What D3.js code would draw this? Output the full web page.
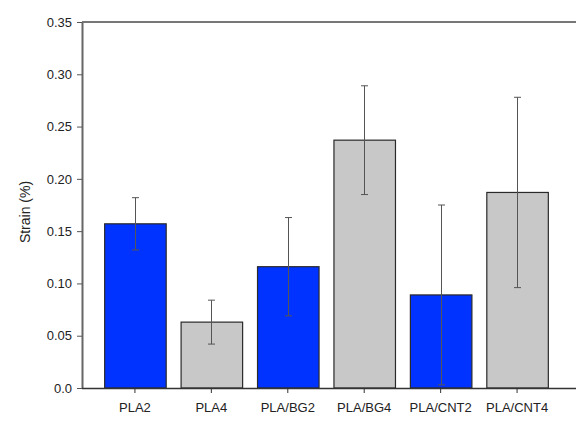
<!DOCTYPE html>
<html>
<head>
<meta charset="utf-8">
<script src="https://cdn.jsdelivr.net/npm/d3@7"></script>
<style>
  html, body { margin: 0; padding: 0; background: #fff; }
  svg { display: block; }
  text { font-family: "Liberation Sans", Arial, sans-serif; fill: #222; }
</style>
</head>
<body>
<svg id="chart" width="576" height="424"></svg>
<script>
// Sample names, mean strain and standard deviation
const categories = ["PLA2", "PLA4", "PLA/BG2", "PLA/BG4", "PLA/CNT2", "PLA/CNT4"];
const strainMean = [0.157, 0.063, 0.116, 0.237, 0.089, 0.187];
const strainErr  = [0.025, 0.021, 0.047, 0.052, 0.086, 0.091];
const barFill    = ["#0033ff", "#c8c8c8", "#0033ff", "#c8c8c8", "#0033ff", "#c8c8c8"];
const yTicks     = [0, 0.05, 0.10, 0.15, 0.20, 0.25, 0.30, 0.35];
const yTickLabels = ["0.0", "0.05", "0.10", "0.15", "0.20", "0.25", "0.30", "0.35"];
const yTitle = "Strain (%)";

const svg = d3.select("#chart");
const plotLeft = 82, plotTop = 22, plotBottom = 388, plotRight = 580;
const fontFamily = "'Liberation Sans', Arial, sans-serif";

const x = d3.scaleBand()
  .domain(categories)
  .range([plotLeft, 570])
  .paddingInner(0.195)
  .paddingOuter(0.29);

const y = d3.scaleLinear().domain([0, 0.35]).range([plotBottom, plotTop]);

const data = categories.map((c, i) => ({ c, v: strainMean[i], e: strainErr[i], fill: barFill[i] }));

// Bars
svg.append("g").selectAll("rect").data(data).join("rect")
  .attr("x", d => x(d.c) + 0.5)
  .attr("y", d => y(d.v))
  .attr("width", x.bandwidth())
  .attr("height", d => y(0) - y(d.v))
  .attr("fill", d => d.fill)
  .attr("stroke", "#2a2a2a")
  .attr("stroke-width", 1.2);

// Error bars
const eb = svg.append("g").attr("stroke", "#555").attr("stroke-width", 1);
data.forEach(d => {
  const cx = Math.round(x(d.c) + x.bandwidth() / 2) + 0.5;
  eb.append("line").attr("x1", cx).attr("x2", cx).attr("y1", y(d.v + d.e)).attr("y2", y(d.v - d.e));
  [d.v + d.e, d.v - d.e].forEach(v => {
    eb.append("line").attr("x1", cx - 3.5).attr("x2", cx + 3.5).attr("y1", y(v)).attr("y2", y(v));
  });
});

// Frame: top line and axes
svg.append("line").attr("x1", plotLeft).attr("x2", plotRight).attr("y1", plotTop).attr("y2", plotTop)
  .attr("stroke", "#777").attr("stroke-width", 2);

const yAxis = svg.append("g").attr("transform", `translate(${plotLeft},0)`)
  .call(d3.axisLeft(y).tickValues(yTicks).tickFormat((d, i) => yTickLabels[i]).tickSize(5).tickSizeOuter(0));
yAxis.select(".domain").attr("stroke", "#666").attr("stroke-width", 2);
yAxis.selectAll(".tick line").attr("stroke", "#555");
yAxis.selectAll(".tick text").attr("font-size", 13).attr("fill", "#222").attr("x", -10)
  .style("font-family", fontFamily);

const xAxis = svg.append("g").attr("transform", `translate(0,${plotBottom})`)
  .call(d3.axisBottom(x).tickSize(5).tickSizeOuter(0));
xAxis.select(".domain").attr("d", `M${plotLeft},0.5H${plotRight}`).attr("stroke", "#333").attr("stroke-width", 1.5);
xAxis.selectAll(".tick line").attr("stroke", "#333");
xAxis.selectAll(".tick text").attr("font-size", 13).attr("fill", "#222").attr("y", 15)
  .style("font-family", fontFamily);

// Y axis title
svg.append("text")
  .attr("transform", "translate(30,212) rotate(-90)")
  .attr("text-anchor", "middle")
  .attr("font-size", 14)
  .text(yTitle);
</script>
</body>
</html>
